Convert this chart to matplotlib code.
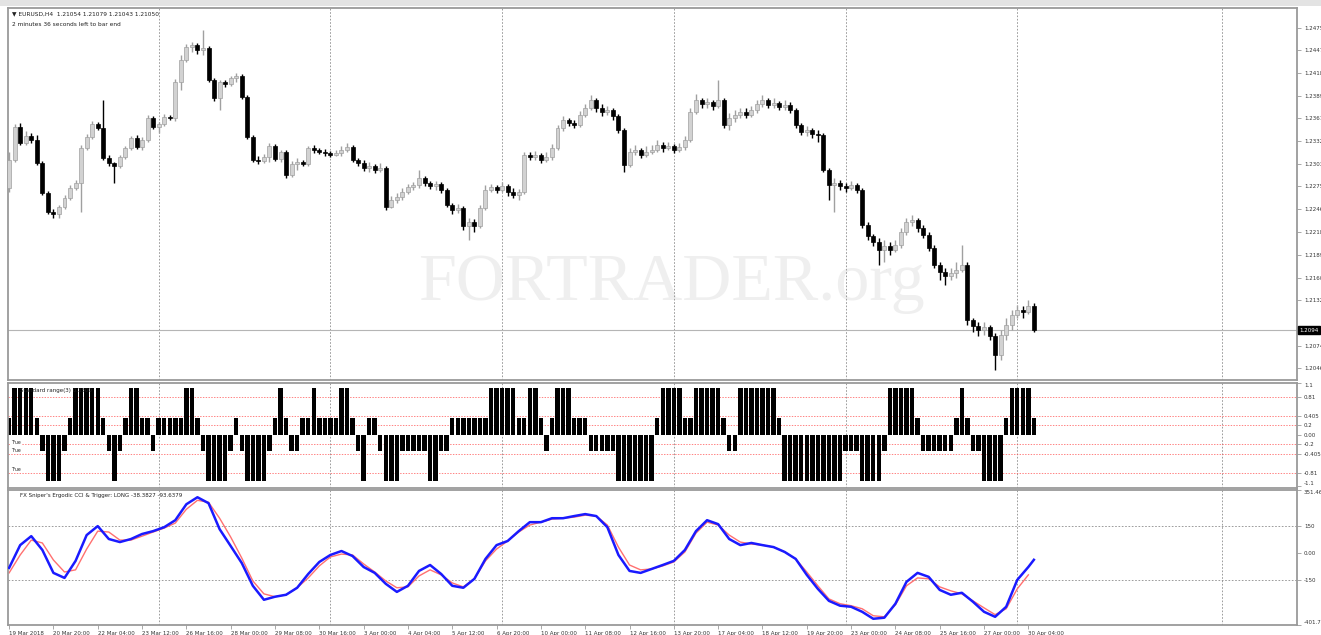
import numpy as np
import matplotlib
matplotlib.use("Agg")
import matplotlib.pyplot as plt
from matplotlib.patches import Rectangle

# ---------------- data ----------------
open_first = 1.2273
close = [1.2308,1.2350,1.2330,1.2339,1.2334,1.2305,1.2267,1.2243,1.2240,1.2249,
1.2261,1.2273,1.2279,1.2324,1.2337,1.2354,1.2349,1.2311,1.2305,1.2301,
1.2312,1.2324,1.2336,1.2325,1.2334,1.2361,1.2350,1.2354,1.2363,1.2361,
1.2407,1.2434,1.2451,1.2453,1.2447,1.2450,1.2409,1.2386,1.2407,1.2404,
1.2412,1.2414,1.2388,1.2337,1.2308,1.2307,1.2312,1.2326,1.2310,1.2318,
1.2290,1.2303,1.2306,1.2303,1.2324,1.2321,1.2318,1.2317,1.2315,1.2317,
1.2321,1.2325,1.2308,1.2305,1.2298,1.2301,1.2296,1.2298,1.2249,1.2258,
1.2262,1.2268,1.2274,1.2277,1.2286,1.2279,1.2276,1.2278,1.2271,1.2252,
1.2245,1.2248,1.2225,1.2230,1.2225,1.2248,1.2271,1.2274,1.2271,1.2276,
1.2268,1.2264,1.2268,1.2315,1.2312,1.2315,1.2308,1.2312,1.2324,1.2349,
1.2359,1.2355,1.2352,1.2365,1.2374,1.2384,1.2374,1.2369,1.2371,1.2364,
1.2346,1.2302,1.2318,1.2321,1.2315,1.2318,1.2321,1.2327,1.2324,1.2326,
1.2321,1.2325,1.2334,1.2369,1.2384,1.2379,1.2381,1.2376,1.2384,1.2352,
1.2361,1.2365,1.2369,1.2365,1.2371,1.2379,1.2384,1.2378,1.2380,1.2375,
1.2378,1.2371,1.2352,1.2344,1.2346,1.2341,1.2340,1.2296,1.2277,1.2279,
1.2276,1.2273,1.2277,1.2271,1.2227,1.2213,1.2205,1.2195,1.2200,1.2195,
1.2201,1.2218,1.2230,1.2233,1.2223,1.2214,1.2197,1.2176,1.2167,1.2162,
1.2166,1.2170,1.2176,1.2107,1.2099,1.2094,1.2098,1.2087,1.2063,1.2088,
1.2100,1.2113,1.2119,1.2117,1.2124,1.2094]
high = [1.2318,1.2354,1.2355,1.2345,1.2342,1.2340,1.2307,1.2269,1.2247,1.2252,
1.2264,1.2277,1.2283,1.2327,1.2341,1.2358,1.2356,1.2384,1.2315,1.2306,
1.2315,1.2326,1.2339,1.2340,1.2337,1.2365,1.2364,1.2356,1.2366,1.2365,
1.2410,1.2441,1.2455,1.2457,1.2456,1.2472,1.2452,1.2412,1.2409,1.2409,
1.2414,1.2418,1.2417,1.2390,1.2340,1.2313,1.2316,1.2330,1.2329,1.2321,
1.2321,1.2307,1.2311,1.2308,1.2326,1.2327,1.2324,1.2322,1.2320,1.2321,
1.2326,1.2330,1.2327,1.2311,1.2308,1.2306,1.2303,1.2305,1.2301,1.2263,
1.2267,1.2273,1.2278,1.2281,1.2296,1.2288,1.2282,1.2282,1.2281,1.2273,
1.2254,1.2253,1.2250,1.2235,1.2234,1.2252,1.2277,1.2278,1.2277,1.2281,
1.2278,1.2273,1.2272,1.2318,1.2318,1.2320,1.2317,1.2318,1.2329,1.2352,
1.2364,1.2361,1.2359,1.2370,1.2379,1.2390,1.2386,1.2379,1.2376,1.2374,
1.2366,1.2349,1.2324,1.2327,1.2324,1.2326,1.2327,1.2334,1.2331,1.2331,
1.2329,1.2330,1.2339,1.2374,1.2392,1.2386,1.2386,1.2384,1.2409,1.2386,
1.2368,1.2371,1.2374,1.2374,1.2376,1.2384,1.2390,1.2386,1.2386,1.2383,
1.2384,1.2381,1.2374,1.2355,1.2351,1.2349,1.2346,1.2342,1.2298,1.2286,
1.2283,1.2279,1.2282,1.2279,1.2273,1.2230,1.2215,1.2210,1.2208,1.2205,
1.2208,1.2223,1.2235,1.2239,1.2235,1.2227,1.2218,1.2201,1.2180,1.2172,
1.2172,1.2180,1.2201,1.2180,1.2109,1.2104,1.2104,1.2100,1.2090,1.2094,
1.2109,1.2119,1.2126,1.2124,1.2132,1.2128]
low = [1.2268,1.2306,1.2327,1.2327,1.2330,1.2302,1.2264,1.2240,1.2235,1.2235,
1.2247,1.2258,1.2271,1.2243,1.2321,1.2335,1.2346,1.2308,1.2301,1.2279,
1.2298,1.2310,1.2321,1.2322,1.2321,1.2331,1.2347,1.2342,1.2351,1.2359,
1.2358,1.2397,1.2432,1.2444,1.2442,1.2441,1.2407,1.2383,1.2371,1.2400,
1.2402,1.2407,1.2385,1.2335,1.2306,1.2303,1.2305,1.2306,1.2307,1.2306,
1.2286,1.2287,1.2296,1.2301,1.2301,1.2317,1.2316,1.2313,1.2312,1.2313,
1.2313,1.2318,1.2306,1.2301,1.2295,1.2293,1.2292,1.2293,1.2245,1.2248,
1.2254,1.2258,1.2266,1.2271,1.2273,1.2276,1.2272,1.2271,1.2267,1.2249,
1.2240,1.2242,1.2220,1.2208,1.2218,1.2223,1.2245,1.2268,1.2267,1.2268,
1.2263,1.2261,1.2258,1.2266,1.2308,1.2308,1.2305,1.2306,1.2308,1.2321,
1.2345,1.2351,1.2349,1.2350,1.2363,1.2371,1.2369,1.2364,1.2365,1.2359,
1.2342,1.2293,1.2300,1.2315,1.2311,1.2312,1.2316,1.2318,1.2318,1.2321,
1.2317,1.2318,1.2321,1.2331,1.2366,1.2374,1.2374,1.2371,1.2374,1.2349,
1.2346,1.2356,1.2361,1.2361,1.2363,1.2368,1.2375,1.2374,1.2374,1.2371,
1.2371,1.2368,1.2349,1.2340,1.2339,1.2336,1.2331,1.2293,1.2258,1.2243,
1.2271,1.2268,1.2271,1.2267,1.2223,1.2208,1.2200,1.2176,1.2180,1.2189,
1.2192,1.2197,1.2214,1.2225,1.2218,1.2210,1.2194,1.2172,1.2157,1.2151,
1.2157,1.2160,1.2167,1.2100,1.2092,1.2087,1.2088,1.2082,1.2044,1.2056,
1.2082,1.2094,1.2109,1.2109,1.2114,1.2092]

range_hist = [0.35,1,1,1,1,0.35,-0.35,-1,-1,-1,
-0.35,0.35,1,1,1,1,1,0.35,-0.35,-1,
-0.35,0.35,1,1,0.35,0.35,-0.35,0.35,0.35,0.35,
0.35,0.35,1,1,0.35,-0.35,-1,-1,-1,-1,
-0.35,0.35,-0.35,-1,-1,-1,-1,-0.35,0.35,1,
0.35,-0.35,-0.35,0.35,0.35,1,0.35,0.35,0.35,0.35,
1,1,0.35,-0.35,-1,0.35,0.35,-0.35,-1,-1,
-1,-0.35,-0.35,-0.35,-0.35,-0.35,-1,-1,-0.35,-0.35,
0.35,0.35,0.35,0.35,0.35,0.35,0.35,1,1,1,
1,1,0.35,0.35,1,1,0.35,-0.35,0.35,1,
1,1,0.35,0.35,0.35,-0.35,-0.35,-0.35,-0.35,-0.35,
-1,-1,-1,-1,-1,-1,-1,0.35,1,1,
1,1,0.35,0.35,1,1,1,1,1,0.35,
-0.35,-0.35,1,1,1,1,1,1,1,0.35,
-1,-1,-1,-1,-1,-1,-1,-1,-1,-1,
-1,-0.35,-0.35,-0.35,-1,-1,-1,-1,-0.35,1,
1,1,1,1,0.35,-0.35,-0.35,-0.35,-0.35,-0.35,
-0.35,0.35,1,0.35,-0.35,-0.35,-1,-1,-1,-1,
0.35,1,1,1,1,0.35]

cci_bars = list(range(0, 185, 2)) + [185]
cci = [-83,44,94,17,-111,-139,-44,100,150,78,
61,78,106,122,144,183,272,311,278,133,
39,-56,-183,-261,-244,-233,-194,-117,-50,-11,
11,-17,-78,-111,-172,-217,-183,-100,-67,-117,
-183,-194,-144,-33,44,67,122,172,172,194,
194,206,217,206,144,-11,-100,-111,-89,-67,
-44,17,122,183,161,78,44,56,44,33,
6,-33,-122,-200,-267,-294,-300,-328,-367,-361,
-283,-161,-111,-133,-206,-233,-222,-272,-328,-356,
-300,-150,-78,-38]
trig_bars = list(range(0, 185, 2))
trigger = [-111,-11,72,56,-39,-106,-94,22,122,117,
72,72,94,117,139,167,244,294,283,194,
89,-28,-156,-228,-244,-233,-194,-139,-72,-22,
-6,-11,-61,-106,-156,-194,-189,-128,-94,-122,
-167,-189,-144,-44,22,67,117,156,172,189,
194,200,211,206,156,33,-67,-94,-89,-72,
-50,6,111,172,156,100,61,50,44,33,
6,-33,-106,-183,-256,-283,-294,-311,-350,-356,
-289,-183,-139,-144,-189,-211,-228,-267,-306,-344,
-311,-200,-122]

price_ticks = [1.2475,1.2447,1.2418,1.2389,1.2361,1.2332,1.2303,1.2275,1.2246,
               1.2218,1.2189,1.2160,1.2132,1.2074,1.2046]
range_ticks = [1.1,0.81,0.405,0.2,0.0,-0.2,-0.405,-0.81,-1.1]
range_tick_labels = ['1.1','0.81','0.405','0.2','0.00','-0.2','-0.405','-0.81','-1.1']
range_levels = [0.81,0.405,0.2,-0.2,-0.405,-0.81]
cci_ticks = [351.46,150,0,-150,-401.7]
cci_tick_labels = ['351.46','150','0.00','-150','-401.7']
cci_levels = [150,-150]
date_bars = list(range(0, 185, 8))
date_labels = ["19 Mar 2018","20 Mar 20:00","22 Mar 04:00","23 Mar 12:00","26 Mar 16:00",
               "28 Mar 00:00","29 Mar 08:00","30 Mar 16:00","3 Apr 00:00","4 Apr 04:00",
               "5 Apr 12:00","6 Apr 20:00","10 Apr 00:00","11 Apr 08:00","12 Apr 16:00",
               "13 Apr 20:00","17 Apr 04:00","18 Apr 12:00","19 Apr 20:00","23 Apr 00:00",
               "24 Apr 08:00","25 Apr 16:00","27 Apr 00:00","30 Apr 04:00"]
grid_bars = [27, 58, 89, 120, 151, 182, 219]

# ---------------- figure ----------------
W, H = 1321, 635
fig = plt.figure(figsize=(W/100, H/100), dpi=100)
fig.patch.set_facecolor('white')

def rect(l, t, r, b):
    return [l/W, 1-b/H, (r-l)/W, (b-t)/H]

ax1 = fig.add_axes(rect(8, 8, 1297, 380))
ax2 = fig.add_axes(rect(8, 383, 1297, 488), sharex=ax1)
ax3 = fig.add_axes(rect(8, 490, 1297, 625), sharex=ax1)

spine_c = '#9a9a9a'
for ax in (ax1, ax2, ax3):
    for s in ax.spines.values():
        s.set_color(spine_c)
        s.set_linewidth(1.3)
    ax.yaxis.tick_right()
    ax.tick_params(axis='y', which='both', length=3, width=0.6, color=spine_c,
                   labelsize=4, labelcolor='#333333', pad=2)
    ax.tick_params(axis='x', which='both', length=0, labelbottom=False)
    for gb in grid_bars:
        ax.axvline(gb, color='#8c8c8c', lw=0.6, ls=(0, (2, 2)), zorder=0.5)

# top strip
fig.patches.append(Rectangle((0, 1-6/H), 1, 6/H, transform=fig.transFigure,
                             facecolor='#e3e3e3', edgecolor='none'))

n = len(close)
bars = np.arange(n)
opens = [open_first] + close[:-1]

# watermark
ax1.text(0.515, 0.215, 'FORTRADER.org', transform=ax1.transAxes, ha='center',
         va='baseline', fontsize=49, family='Liberation Serif', color='#efefef', zorder=0.2)

# candles
for i in range(n):
    o, c, h, l = opens[i], close[i], high[i], low[i]
    bull = c >= o
    col = '#a0a0a0' if bull else 'black'
    face = '#d2d2d2' if bull else 'black'
    ax1.vlines(i, l, h, color=col, lw=1.0, zorder=2)
    bot, top = min(o, c), max(o, c)
    hh = max(top - bot, 0.00008)
    ax1.bar(i, hh, bottom=bot, width=0.72, color=face, edgecolor=col, linewidth=0.5, zorder=3)

ax1.axhline(close[-1], color='#b5b5b5', lw=0.8, zorder=1)
ax1.set_xlim(-0.2, 232.5)
ax1.set_ylim(1.2031, 1.2500)
ax1.set_yticks(price_ticks)
ax1.set_yticklabels([f'{t:.4f}' for t in price_ticks])
ax1.text(1.0015, close[-1], f'{close[-1]:.4f}', transform=ax1.get_yaxis_transform(),
         ha='left', va='center', fontsize=4, color='white',
         bbox=dict(boxstyle='square,pad=0.25', facecolor='black', edgecolor='black'))

fig.text(12/W, 1-14/H, '\u25bc EURUSD,H4  1.21054 1.21079 1.21043 1.21050', fontsize=4.2,
         va='center', ha='left', color='#222222')
fig.text(12/W, 1-24/H, '2 minutes 36 seconds left to bar end', fontsize=4.2,
         va='center', ha='left', color='#222222')

# panel 2
ax2.bar(bars, range_hist, width=0.8, color='black', zorder=2)
for lv in range_levels:
    ax2.axhline(lv, color='#ff5050', lw=0.5, ls=(0, (2, 2)), zorder=1)
ax2.set_ylim(-1.14, 1.10)
ax2.set_yticks(range_ticks)
ax2.set_yticklabels(range_tick_labels)
ylabs2 = ax2.get_yticklabels()
ylabs2[0].set_va('top')
ylabs2[-1].set_va('bottom')
ax2.text(12/1289, 0.95, 'Standard range(3) 0.3500', transform=ax2.transAxes,
         fontsize=4, va='top', ha='left', color='#222222', zorder=4)
for yv in (-0.16, -0.35, -0.74):
    ax2.text(0.0025, yv, 'True', transform=ax2.get_yaxis_transform(), fontsize=3.3,
             va='center', ha='left', color='#222222', zorder=4,
             bbox=dict(boxstyle='square,pad=0.05', facecolor='white', edgecolor='none'))

# panel 3
ax3.plot(trig_bars, trigger, color='#ff7070', lw=1.0, zorder=2)
ax3.plot(cci_bars, cci, color='#1a1aff', lw=1.8, zorder=3)
for lv in cci_levels:
    ax3.axhline(lv, color='#8c8c8c', lw=0.6, ls=(0, (2, 2)), zorder=1)
ax3.set_ylim(-401.7, 351.46)
ax3.set_yticks(cci_ticks)
ax3.set_yticklabels(cci_tick_labels)
ylabs3 = ax3.get_yticklabels()
ylabs3[0].set_va('top')
ylabs3[-1].set_va('bottom')
ax3.text(12/1289, 0.975, "FX Sniper's Ergodic CCI & Trigger: LONG -38.3827 -93.6379",
         transform=ax3.transAxes, fontsize=4, va='top', ha='left', color='#222222')

ax3.set_xticks(date_bars)
ax3.set_xticklabels(date_labels, ha='left')
ax3.tick_params(axis='x', which='both', length=3, width=0.6, color=spine_c,
                labelbottom=True, labelsize=4, labelcolor='#333333', pad=1.5)

fig.savefig('out.png', dpi=100, facecolor='white')
